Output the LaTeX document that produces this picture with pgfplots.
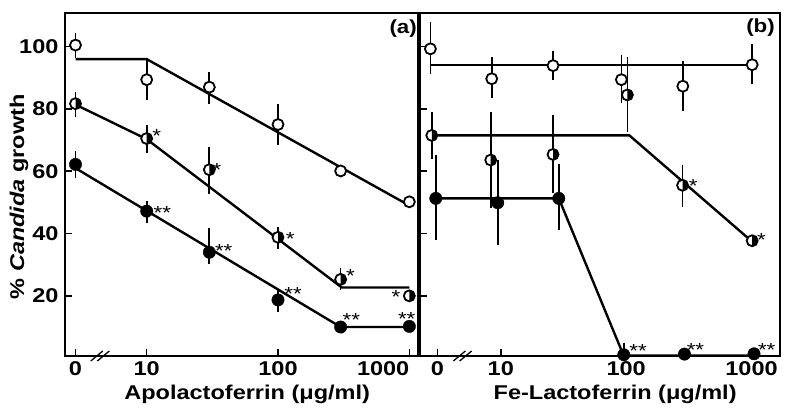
\documentclass[border=0pt]{standalone}
\usepackage{fontspec}
\setmainfont{Liberation Sans}[FakeStretch=1.18]
\usepackage{pgfplots}
\pgfplotsset{compat=1.18}
\newcommand\tl{\fontsize{20}{23}\selectfont\bfseries}
\newcommand\st{\fontsize{19}{20}\selectfont}
\pgfdeclareplotmark{halfc}{%
  \pgfpathcircle{\pgfpointorigin}{\pgfplotmarksize}%
  \pgfusepathqfillstroke
  \begin{pgfscope}%
  \pgfsetfillcolor{black}%
  \pgfpathmoveto{\pgfqpoint{0pt}{\pgfplotmarksize}}%
  \pgfpatharc{90}{-90}{\pgfplotmarksize}%
  \pgfpathclose
  \pgfusepathqfill
  \end{pgfscope}%
}
\pgfplotsset{
  panel/.style={
    scale only axis, height=343bp,
    ymin=0.7, ymax=110.8,
    ytick={20,40,60,80,100},
    axis line style={line width=2.1pt},
    every tick/.style={line width=1.6pt, black},
    tick align=inside, major tick length=7bp,
    xtick pos=bottom, ytick pos=left,
    /pgf/number format/assume math mode=true,
    ticklabel style={font=\tl},
    yticklabel style={xshift=-3bp},
    xticklabel style={yshift=-2.5bp},
    xlabel style={font=\tl},
    ylabel style={font=\tl},
    clip=false,
  },
  fit/.style={black, line width=2.4pt, mark=none},
  open/.style={only marks, mark=*, mark size=5.5bp, mark options={fill=white, draw=black, line width=1.8pt}},
  half/.style={only marks, mark=halfc, mark size=5.5bp, mark options={fill=white, draw=black, line width=1.8pt}},
  full/.style={only marks, mark=*, mark size=6.2bp, mark options={fill=black, draw=black}},
  eb/.style={error bars/.cd, y dir=both, y explicit,
    error bar style={line width=1.7pt, black},
    error mark options={line width=1.7pt, mark size=3.2bp, black}},
  stars/.style={draw=none, mark=none, nodes near coords, point meta=explicit symbolic,
    visualization depends on={value \thisrow{dx}\as\dx},
    visualization depends on={value \thisrow{dy}\as\dy},
    nodes near coords style={anchor=center, inner sep=0pt, xshift=\dx bp, yshift=\dy bp, font=\st, black}},
}
\begin{document}
\begin{tikzpicture}
\useasboundingbox (-65bp,-54bp) rectangle (720bp,356bp);
% ---------------- panel (a)
\begin{axis}[panel, width=353bp, at={(0,0)}, anchor=south west,
  xmin=0.378, xmax=3.066,
  xtick={0.458,1,2,3}, xticklabels={0,10,100,{\llap{1000}}},
  xlabel={Apolactoferrin (μg/ml)},
  xlabel style={at={(axis description cs:0.516,-0.113)}, anchor=center},
  ylabel={\% \textit{Candida} growth},
  ylabel style={at={(axis description cs:-0.13,0.464)}, anchor=center},
]
\addplot[fit] coordinates {(0.458,96) (1,96) (3,49)};
\addplot[fit] coordinates {(0.458,81.4) (1,70.3) (2.485,22.7) (3,22.7)};
\addplot[fit] coordinates {(0.458,61) (2.477,10) (3,10)};
\addplot[open, eb] table[x=x, y=y, y error plus=ep, y error minus=em] {
x y ep em
0.458 100.5 2.8 3.0
1 89.4 5.8 5.6
1.477 87.0 3.8 4.3
2 75.0 5.6 5.6
2.477 60.1 0 0
3 50.2 0 0
};
\addplot[half, eb] table[x=x, y=y, y error plus=ep, y error minus=em] {
x y ep em
0.458 81.7 2.8 3.2
1 70.5 3.2 3.5
1.477 60.5 6.2 6.8
2 38.8 2.3 2.7
2.477 25.3 2.5 2.5
3 20 0 0
};
\addplot[full, eb] table[x=x, y=y, y error plus=ep, y error minus=em] {
x y ep em
0.458 62.2 3.2 3.2
1 47.2 2.2 2.9
1.477 34 6.6 2.7
2 18.7 2.2 3.0
2.477 10 0 0
3 10.2 0 0
};
\addplot[stars] table[x=x, y=y, meta=l] {
x y dx dy l
1 47.2 15.7 -2 **
1.477 34 14.4 1 **
2 18.7 15 6 **
2.477 10 10.7 7 **
3 10.2 -2.6 7 **
1 70.5 10 2.6 *
1.477 60.5 7.7 -0.3 *
2 38.8 12.3 -1.7 *
2.477 25.3 9.7 3.6 *
3 20 -13.3 -1.3 *
};
\node[anchor=north east, inner sep=0pt, font=\fontsize{19}{21}\selectfont\bfseries] at (rel axis cs:1,1) [xshift=-1bp, yshift=-7bp] {(a)};
\draw[line width=1.3pt] (axis cs:0.62,0.7) ++(-6bp,-5bp) -- ++(12bp,10bp);
\draw[line width=1.3pt] (axis cs:0.67,0.7) ++(-6bp,-5bp) -- ++(12bp,10bp);
\end{axis}
% ---------------- panel (b)
\begin{axis}[panel, width=360bp, at={(355bp,0)}, anchor=south west,
  xmin=0.356, xmax=3.227,
  xtick={0.495,1,2,3}, xticklabels={0,10,100,1000},
  yticklabels={},
  xlabel={Fe-Lactoferrin (μg/ml)},
  xlabel style={at={(axis description cs:0.542,-0.113)}, anchor=center},
]
\addplot[fit] coordinates {(0.439,94.2) (3.005,94.2)};
\addplot[fit] coordinates {(0.45,71.5) (2.026,71.5) (3.005,37.4)};
\addplot[fit] coordinates {(0.482,51.3) (1.463,51.3) (1.98,0.8) (3.02,0.8)};
\addplot[open, eb] table[x=x, y=y, y error plus=ep, y error minus=em] {
x y ep em
0.439 99.3 7.7 7.2
0.928 89.7 5.8 5.2
1.417 93.9 3.8 3.5
1.962 89.4 7.0 6.4
2.452 87.3 7.2 6.9
3.005 94.2 5.6 5.3
};
\addplot[half, eb] table[x=x, y=y, y error plus=ep, y error minus=em] {
x y ep em
0.45 71.5 6.4 6.4
0.92 63.6 14.3 14.3
1.417 65.4 11.5 11.5
2.01 84.5 11 10.8
2.45 55.5 5.4 6
3.005 37.7 0 0
};
\addplot[full, eb] table[x=x, y=y, y error plus=ep, y error minus=em] {
x y ep em
0.482 51.3 12.8 12.3
0.976 49.9 12.6 12.5
1.463 51.3 10.1 9.1
1.981 1.1 2.9 0
2.465 1.3 0 0
3.02 1.4 0 0
};
\addplot[stars] table[x=x, y=y, meta=l] {
x y dx dy l
2.45 55.5 10.7 -0.7 *
3.005 37.7 9.3 0.7 *
1.981 1.1 14.3 4 **
2.465 1.3 11 4.3 **
3.02 1.4 12.7 4 **
};
\node[anchor=north east, inner sep=0pt, font=\fontsize{19}{21}\selectfont\bfseries] at (rel axis cs:1,1) [xshift=-5bp, yshift=-6bp] {(b)};
\draw[line width=1.3pt] (axis cs:0.67,0.7) ++(-6bp,-5bp) -- ++(12bp,10bp);
\draw[line width=1.3pt] (axis cs:0.72,0.7) ++(-6bp,-5bp) -- ++(12bp,10bp);
\end{axis}
\end{tikzpicture}
\end{document}
